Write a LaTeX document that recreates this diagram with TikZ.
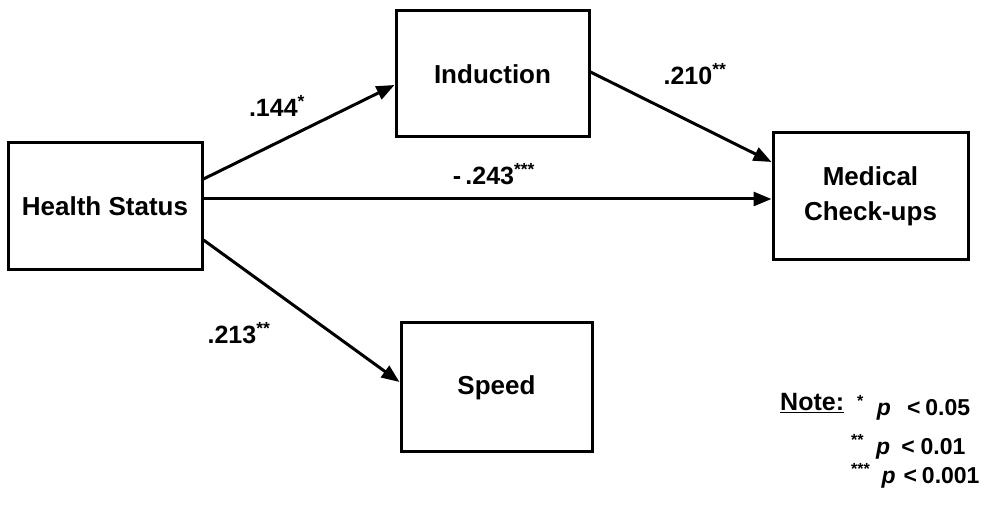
\documentclass[tikz,border=0pt]{standalone}
\usepackage{fontspec}
\setmainfont{Liberation Sans}
\usetikzlibrary{arrows.meta}
\begin{document}
\begin{tikzpicture}[x=1pt,y=-1pt,
  box/.style={draw,line width=3pt,inner sep=0pt,align=center,
    font=\fontsize{26}{35}\selectfont\bfseries},
  conn/.style={line width=3pt,-{Triangle[length=18pt,width=14pt]}},
  elabel/.style={inner sep=0pt,font=\fontsize{25}{28}\selectfont\bfseries},
  notetext/.style={inner sep=0pt,anchor=base west,font=\fontsize{23}{25}\selectfont\bfseries}]
\useasboundingbox (0,0) rectangle (1005,518);
\node[box,minimum width=194pt,minimum height=127pt] (hs) at (105,206.5) {Health Status};
\node[box,minimum width=193pt,minimum height=126pt] (ind) at (492.5,74) {Induction};
\node[box,minimum width=195pt,minimum height=127pt] (med) at (870.5,196.5) {Medical\\Check-ups};
\node[box,minimum width=191pt,minimum height=129pt] (spd) at (496.5,387.5) {Speed};

\draw[conn] ([yshift=27.5pt]hs.east) -- ([yshift=-11pt]ind.west);
\draw[conn] ([yshift=7.5pt]hs.east) -- ([yshift=-2.5pt]med.west);
\draw[conn] ([yshift=2pt]ind.east) -- ([yshift=34.5pt]med.west);
\draw[conn] ([yshift=-33.5pt]hs.east) -- ([yshift=5.5pt]spd.west);

\node[elabel] (l1) at (277,106) {.144\textsuperscript{*}};
\node[elabel] (l2) at (695,74) {.210\textsuperscript{**}};
\node[elabel] (l3) at (494,174) {-\,.243\textsuperscript{***}};
\node[elabel] (l4) at (239,333) {.213\textsuperscript{**}};

\node[notetext,font=\fontsize{25}{27}\selectfont\bfseries] (note) at (780,411) {\underline{Note:}};
\node[notetext] (n1) at (857,416) {\textsuperscript{*}\hspace{13pt}\textit{p}\hspace{16pt}<\hspace{5pt}0.05};
\node[notetext] (n2) at (851,455) {\textsuperscript{**}\hspace{12pt}\textit{p}\hspace{11pt}<\hspace{6pt}0.01};
\node[notetext] (n3) at (851,484) {\textsuperscript{***}\hspace{11pt}\textit{p}\hspace{8pt}<\hspace{5pt}0.001};
\end{tikzpicture}
\end{document}
